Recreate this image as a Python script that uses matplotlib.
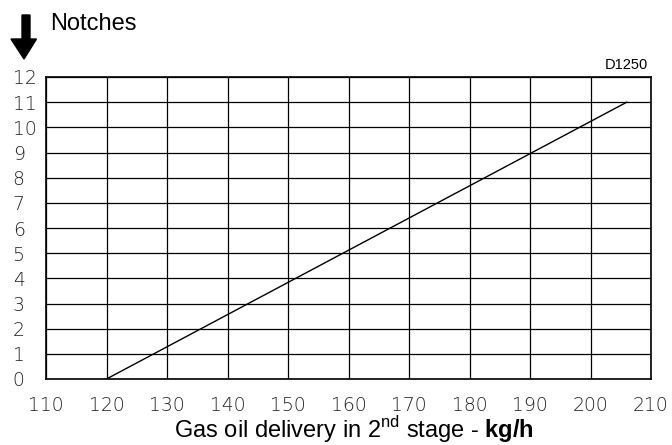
import matplotlib.pyplot as plt
from matplotlib.patches import Polygon

plt.rcParams['mathtext.fontset'] = 'custom'
plt.rcParams['mathtext.rm'] = 'Liberation Sans'
plt.rcParams['mathtext.bf'] = 'Liberation Sans:bold'

# data
x_ticks = [110, 120, 130, 140, 150, 160, 170, 180, 190, 200, 210]
y_ticks = list(range(0, 13))
delivery = [120, 206]   # kg/h
notches = [0, 11]

W, H = 672, 445
fig = plt.figure(figsize=(W / 100, H / 100), dpi=100)
ax = fig.add_axes([46 / W, 1 - 379 / H, 605 / W, 302 / H])

ax.plot(delivery, notches, color='black', lw=1.0)

ax.set_xlim(110, 210)
ax.set_ylim(0, 12)
ax.set_xticks(x_ticks)
ax.set_yticks(y_ticks)
ax.grid(True, color='black', lw=0.9)
ax.set_axisbelow(True)
for s in ax.spines.values():
    s.set_linewidth(1.2)

ax.tick_params(length=0, labelsize=13.5, colors='#222222')
ax.tick_params(axis='x', pad=12)
ax.tick_params(axis='y', pad=24)
for t in ax.get_yticklabels():
    t.set_horizontalalignment('left')
for t in ax.get_xticklabels() + ax.get_yticklabels():
    t.set_fontweight('light')

fig.text(354 / W, 1 - 438 / H,
         'Gas oil delivery in 2$^{\\mathrm{nd}}$ stage - $\\mathbf{kg/h}$',
         fontsize=17, family='Liberation Sans', ha='center', va='baseline')

fig.text(50 / W, 1 - 24 / H, 'Notches', fontsize=17, family='Liberation Sans',
         va='center', ha='left')
fig.text(648 / W, 1 - 65 / H, 'D1250', fontsize=10.5, family='Liberation Sans',
         va='center', ha='right')

# block arrow at top left
arrow = Polygon([(px / W, 1 - py / H) for px, py in
                 [(22, 15), (30, 15), (30, 39), (36.5, 39), (24, 59), (11, 39), (22, 39)]],
                closed=True, color='black', transform=fig.transFigure)
fig.patches.append(arrow)

fig.savefig('out.png', dpi=100)
